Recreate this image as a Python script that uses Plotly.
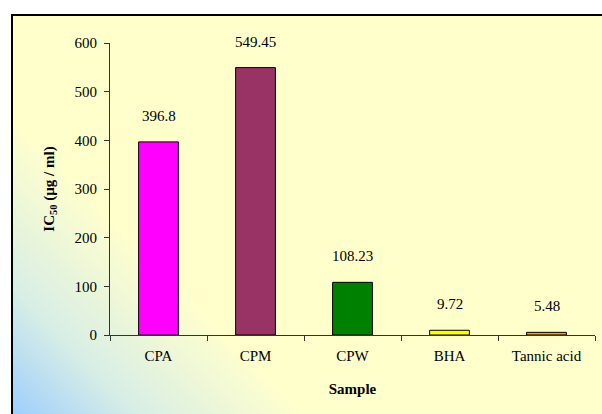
import base64
import plotly.graph_objects as go

# IC50 values per sample
samples = ["CPA", "CPM", "CPW", "BHA", "Tannic acid"]
ic50 = [396.8, 549.45, 108.23, 9.72, 5.48]
value_labels = ["396.8", "549.45", "108.23", "9.72", "5.48"]
bar_colors = ["#FF00FF", "#993366", "#008000", "#FFFF00", "#FF9900"]
y_ticks = [0, 100, 200, 300, 400, 500, 600]

W, H = 602, 414
L, R, T, B = 110, 7, 43, 79
pw, ph = W - L - R, H - T - B

def px_to_paper_x(px):
    return (px - L) / pw

def px_to_paper_y(py):
    return (H - B - py) / ph

# Chart-area background: pale yellow fading into light blue at the lower-left corner
bg_svg = (
    '<svg xmlns="http://www.w3.org/2000/svg" width="590" height="400" '
    'viewBox="0 0 590 400" preserveAspectRatio="none">'
    '<defs><linearGradient id="g" gradientUnits="userSpaceOnUse" '
    'x1="0" y1="400" x2="150" y2="250">'
    '<stop offset="0" stop-color="#99CCFF"/>'
    '<stop offset="0.45" stop-color="#D8EEE6"/>'
    '<stop offset="1" stop-color="#FFFFCC"/>'
    '</linearGradient></defs>'
    '<rect width="590" height="400" fill="url(#g)"/></svg>'
)
bg_uri = "data:image/svg+xml;base64," + base64.b64encode(bg_svg.encode()).decode()

fig = go.Figure()
fig.add_trace(go.Bar(
    x=samples, y=ic50,
    marker=dict(color=bar_colors, line=dict(color="black", width=1)),
    width=0.41,
    hoverinfo="skip",
))

for s, v, lab in zip(samples, ic50, value_labels):
    fig.add_annotation(x=s, y=v, text=lab, showarrow=False,
                       yanchor="bottom", yshift=16,
                       font=dict(family="Liberation Serif", size=15, color="black"))

fx0, fx1 = px_to_paper_x(12), px_to_paper_x(W + 10)
fy0, fy1 = px_to_paper_y(H + 10), px_to_paper_y(15)

fig.add_layout_image(dict(
    source=bg_uri, xref="paper", yref="paper",
    x=fx0, y=fy1, sizex=fx1 - fx0, sizey=fy1 - fy0,
    xanchor="left", yanchor="top", sizing="stretch", layer="below",
))
fig.add_shape(type="rect", xref="paper", yref="paper",
              x0=fx0, x1=fx1, y0=fy0, y1=fy1,
              line=dict(color="black", width=2), fillcolor="rgba(0,0,0,0)",
              layer="below")

fig.update_layout(
    width=W, height=H,
    margin=dict(l=L, r=R, t=T, b=B, pad=0),
    paper_bgcolor="white", plot_bgcolor="rgba(0,0,0,0)",
    showlegend=False, bargap=0.59,
    font=dict(family="Liberation Serif", size=15, color="black"),
    xaxis=dict(
        type="category", range=[-0.5, 4.5],
        showline=True, linecolor="#333333", linewidth=1.2,
        ticks="outside", tickson="boundaries", ticklen=5, tickcolor="#333333",
        showgrid=False, zeroline=False, ticklabelstandoff=7,
        tickfont=dict(family="Liberation Serif", size=15),
        title=dict(text="<b>Sample</b>", standoff=20,
                   font=dict(family="Liberation Serif", size=15)),
    ),
    yaxis=dict(
        range=[0, 600], tickvals=y_ticks,
        showline=True, linecolor="#333333", linewidth=1.2,
        ticks="outside", ticklen=5, tickcolor="#333333",
        showgrid=False, zeroline=False, ticklabelstandoff=4,
        tickfont=dict(family="Liberation Serif", size=15),
        title=dict(text="<b>IC<sub>50</sub> (µg / ml)</b>", standoff=16,
                   font=dict(family="Liberation Serif", size=15)),
    ),
)

fig.write_html("out.html")
